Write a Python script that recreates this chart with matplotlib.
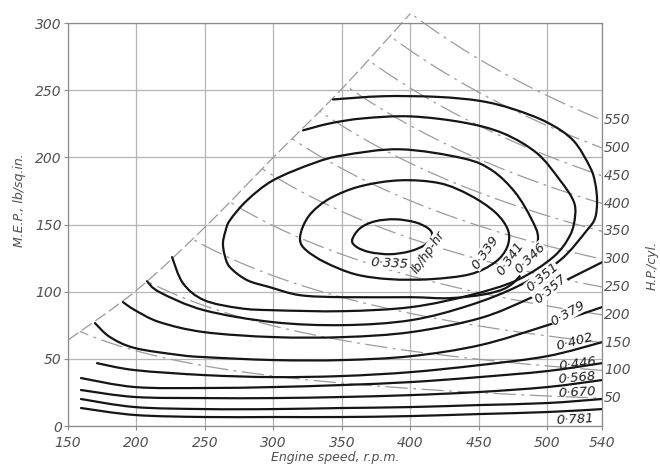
import matplotlib
matplotlib.use("Agg")
import matplotlib.pyplot as plt
import numpy as np
from matplotlib.patches import Polygon, PathPatch
from matplotlib.path import Path

plt.rcParams['font.family'] = ['DejaVu Sans']
plt.rcParams['lines.scale_dashes'] = False

# axes ticks
speed_ticks = [150, 200, 250, 300, 350, 400, 450, 500, 540]
mep_ticks = [0, 50, 100, 150, 200, 250, 300]

# limit of the operating range (dashed boundary)
limit_rpm = [150, 200, 250, 300, 350, 400]
limit_mep = [64, 101, 148, 200, 251, 307]

# lines of constant h.p. per cylinder
hp_levels = [50, 100, 150, 200, 250, 300, 350, 400, 450, 500, 550]
hp_const = 223.6   # M.E.P. x r.p.m. / h.p. per cylinder

# specific fuel consumption contours, lb/hp-hr
c335_rpm = [357.5, 363.3, 374.3, 388.9, 403.5, 413.0, 415.9, 411.5, 399.8, 385.2, 370.6, 361.1, 357.5]
c335_mep = [138.3, 147.2, 152.4, 153.9, 151.7, 147.2, 142.0, 135.3, 130.1, 127.9, 129.4, 133.1, 138.3]

c339_rpm = [319.5, 321.7, 328.2, 341.4, 363.3, 392.5, 421.7, 443.7, 462.0, 471.4, 470.7, 461.9, 443.7, 414.4, 385.2,
            359.7, 337.7, 323.9, 319.5]
c339_mep = [138.3, 148.7, 159.1, 169.5, 178.4, 182.9, 180.7, 171.7, 159.1, 145.7, 133.1, 121.9, 113.0, 109.3, 109.3,
            113.0, 121.9, 130.9, 138.3]

c341_rpm = [263.2, 265.0, 268.3, 280.8, 299.8, 329.0, 351.0, 392.5, 438.5, 459.7, 476.5, 488.2, 493.3, 487.5, 475.0,
            458.3, 429.0, 400.6, 351.0, 319.5, 297.6, 280.8, 268.3, 264.5, 263.2]
c341_mep = [136.1, 145.0, 153.2, 168.0, 182.9, 195.5, 201.5, 206.0, 199.3, 190.3, 174.0, 154.6, 139.8, 123.4, 106.3,
            98.9, 95.2, 95.9, 95.9, 97.4, 103.3, 108.6, 118.2, 127.0, 136.1]

c346_rpm = [226.0, 234.0, 249.4, 275.6, 300.0, 351.0, 400.6, 443.7, 478.0, 504.3, 516.7, 520.4, 519.0, 509.4, 492.6,
            467.8, 438.5, 400.0, 365.5, 341.4, 321.7]
c346_mep = [125.7, 106.3, 93.7, 87.7, 86.2, 85.5, 88.5, 97.4, 108.6, 125.7, 142.0, 156.9, 168.0, 182.9, 203.0,
            217.9, 226.0, 230.5, 229.0, 225.3, 220.1]

c351_rpm = [207.7, 217.0, 249.4, 300.0, 351.0, 400.6, 443.7, 480.0, 509.4, 529.0, 535.0, 536.4, 535.0, 531.3, 519.0,
            500.0, 475.0, 451.0, 420.0, 380.0, 343.6]
c351_mep = [107.8, 99.6, 86.2, 77.3, 75.1, 78.8, 90.0, 104.8, 123.4, 145.7, 155.0, 168.0, 181.0, 192.6, 212.6,
            226.0, 236.0, 242.0, 245.0, 245.5, 243.1]

c357_rpm = [190.2, 199.0, 217.0, 249.4, 300.0, 351.0, 400.6, 451.0, 487.5, 516.7, 540.0]
c357_mep = [92.2, 86.2, 77.3, 69.9, 66.2, 66.2, 69.9, 80.3, 95.2, 110.0, 121.9]

c379_rpm = [169.7, 180.7, 199.0, 231.8, 249.4, 300.0, 351.0, 400.6, 451.0, 500.0, 540.0]
c379_mep = [76.6, 66.2, 58.0, 52.8, 51.3, 49.1, 49.1, 52.0, 60.2, 75.0, 88.5]

c402_rpm = [171.2, 199, 250, 300, 350, 400, 450, 500, 540]
c402_mep = [46.8, 41.6, 37.9, 36.4, 37.2, 40.1, 45.3, 52.0, 62.4]

low_rpm = [159.5, 199, 250, 300, 350, 400, 450, 500, 540]
c446_mep = [35.7, 29.0, 28.3, 29.0, 30.5, 32.7, 36.4, 40.9, 46.8]
c568_mep = [26.8, 21.6, 20.8, 20.8, 21.6, 23.0, 25.3, 29.0, 34.2]
c670_mep = [20.1, 14.1, 12.6, 12.6, 13.4, 14.1, 15.6, 17.1, 20.1]
c781_mep = [13.4, 8.2, 6.7, 6.7, 6.7, 7.4, 8.9, 10.4, 12.6]

# label text, position (rpm, mep) and angle
sfc_labels = ['0·339', '0·341', '0·346', '0·351', '0·357', '0·379', '0·402', '0·446', '0·568', '0·670', '0·781']
sfc_label_rpm = [454.6, 472.9, 487.5, 496.3, 502.1, 515.3, 520.4, 521.8, 521.8, 521.8, 520.4]
sfc_label_mep = [129.4, 124.9, 124.9, 110.8, 101.9, 84.0, 62.5, 46.1, 35.7, 25.3, 5.2]
sfc_label_rot = [55, 55, 45, 40, 40, 30, 15, 8, 5, 3, 3]


def smooth_path(xs, ys):
    # cubic Bezier path through every point (Catmull-Rom tangents)
    p = np.column_stack([xs, ys]).astype(float)
    if np.allclose(p[0], p[-1]):
        p = p[:-1]
        ext = np.vstack([p[-1], p, p[0], p[1]])
    else:
        ext = np.vstack([p[0], p, p[-1]])
    verts = [ext[1]]
    codes = [Path.MOVETO]
    for i in range(1, len(ext) - 2):
        p0, p1, p2, p3 = ext[i - 1], ext[i], ext[i + 1], ext[i + 2]
        verts += [p1 + (p2 - p0) / 6, p2 - (p3 - p1) / 6, p2]
        codes += [Path.CURVE4] * 3
    return Path(verts, codes)


fig = plt.figure(figsize=(6.6, 4.66), dpi=100)
ax = fig.add_axes([0.1030, 0.0858, 0.8091, 0.8648])
ax.set_xlim(150, 540)
ax.set_ylim(0, 300)

grey = '#8c8c8c'
txt = '#505050'

ax.set_xticks(speed_ticks)
ax.set_yticks(mep_ticks)
ax.grid(True, color='#b4b4b4', lw=0.9, zorder=0)
ax.set_axisbelow(True)
for s in ax.spines.values():
    s.set_color(grey)
    s.set_linewidth(0.9)
ax.tick_params(length=3, width=0.8, color=grey, labelcolor=txt, labelsize=10)
ax.tick_params(axis='x', pad=4)
ax.tick_params(axis='y', pad=1.5)
for t in ax.get_xticklabels() + ax.get_yticklabels():
    t.set_fontstyle('italic')

# region under the boundary, used to clip the power lines
clip_pts = list(zip(limit_rpm, limit_mep)) + [(540, 400), (540, 0), (150, 0)]
region = Polygon(clip_pts, closed=True, transform=ax.transData)

rpm = np.linspace(150, 540, 400)
for hp in hp_levels:
    ln, = ax.plot(rpm, hp * hp_const / rpm, color='#9c9c9c', lw=0.9,
                  linestyle=(0, (16, 4, 2, 4)), zorder=1)
    ln.set_clip_path(region)
    ln.set_clip_box(None)
    ax.text(541.5, hp * hp_const / 540, str(hp), ha='left', va='center', fontsize=10,
            style='italic', color=txt, clip_on=False)

limit_patch = PathPatch(smooth_path(limit_rpm, limit_mep), fill=False, edgecolor='#9a9a9a',
                        lw=0.9, linestyle=(0, (9, 3)), clip_on=False, zorder=1)
ax.add_patch(limit_patch)

contours = [(c335_rpm, c335_mep), (c339_rpm, c339_mep), (c341_rpm, c341_mep),
            (c346_rpm, c346_mep), (c351_rpm, c351_mep), (c357_rpm, c357_mep),
            (c379_rpm, c379_mep), (c402_rpm, c402_mep), (low_rpm, c446_mep),
            (low_rpm, c568_mep), (low_rpm, c670_mep), (low_rpm, c781_mep)]
for xs, ys in contours:
    ax.add_patch(PathPatch(smooth_path(xs, ys), fill=False, edgecolor='#151515', lw=1.6,
                           capstyle='round', joinstyle='round', zorder=2))

box = dict(facecolor='white', edgecolor='none', pad=0.2)
for i, (s, x, y, r) in enumerate(zip(sfc_labels, sfc_label_rpm, sfc_label_mep, sfc_label_rot)):
    ax.text(x, y, s, rotation=r, ha='center', va='center', fontsize=9.5,
            style='italic', color='#202020', bbox=box if i < 6 else None, zorder=3)
ax.text(384.5, 121.2, '0·335', rotation=-3, ha='center', va='center', fontsize=9.5,
        style='italic', color='#202020', bbox=box, zorder=3)
ax.text(413, 129.4, 'lb/hp-hr', rotation=55, ha='center', va='center', fontsize=9,
        style='italic', color='#202020', bbox=box, zorder=3)

fig.text(335 / 660, 1 - 458 / 466, 'Engine speed, r.p.m.', ha='center', va='center',
         fontsize=9, style='italic', color=txt)
fig.text(20 / 660, 1 - 200 / 466, 'M.E.P., lb/sq.in.', rotation=90, ha='center', va='center',
         fontsize=9, style='italic', color=txt)
fig.text(652 / 660, 1 - 265 / 466, 'H.P./cyl.', rotation=90, ha='center', va='center',
         fontsize=9, style='italic', color=txt)

fig.savefig('out.png', dpi=100)
